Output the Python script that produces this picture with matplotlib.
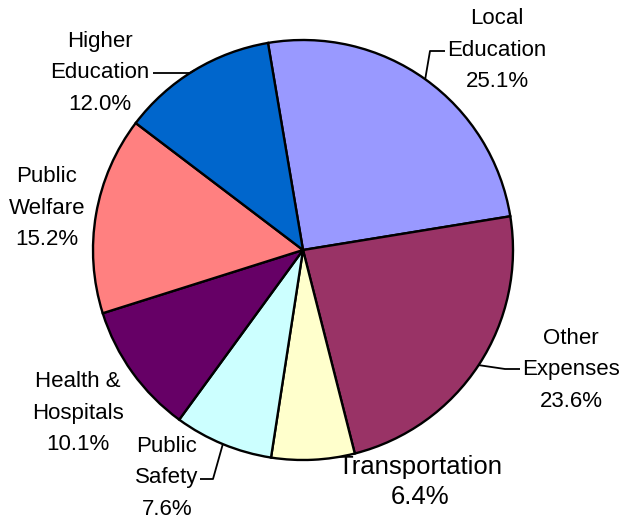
import numpy as np
import matplotlib
matplotlib.use("Agg")
import matplotlib.pyplot as plt

plt.rcParams['font.family'] = ['Liberation Sans', 'DejaVu Sans']

# slice data, clockwise from the top
categories = ["Local\nEducation", "Other\nExpenses", "Transportation", "Public\nSafety",
              "Health &\nHospitals", "Public\nWelfare", "Higher\nEducation"]
shares = [25.1, 23.6, 6.4, 7.6, 10.1, 15.2, 12.0]
colors = ["#9999FF", "#993366", "#FFFFCC", "#CCFFFF", "#660066", "#FF8080", "#0066CC"]

W, H = 625, 521
cx, cy, r = 303, H - 250, 210
start = 99.6

# label placement in pixel coords (x, y from top), and leader points
label_pos = [(497, 50), (571, 370), (420, 482), (167, 478), (78, 413), (47, 208), (100, 73)]
label_size = [16, 16, 18.5, 16, 16, 16, 16]
leaders = {
    0: [(445, 51), (430, 51)],
    1: [(520, 369), (505, 369)],
    3: [(200, 479), (213, 479)],
    6: [(153, 73), (190, 73)],
}

fig = plt.figure(figsize=(W / 100, H / 100), dpi=100)
ax = fig.add_axes([0, 0, 1, 1])
ax.set_xlim(0, W)
ax.set_ylim(0, H)
ax.set_aspect('equal')
ax.axis('off')

ax.pie(shares, colors=colors, startangle=start, counterclock=False,
       center=(cx, cy), radius=r,
       wedgeprops=dict(edgecolor='black', linewidth=1.7))
ax.set_xlim(0, W)
ax.set_ylim(0, H)

total = sum(shares)
cum = np.cumsum(shares)
for i, (name, v) in enumerate(zip(categories, shares)):
    tx, ty = label_pos[i]
    txt = f"{name}\n{v:.1f}%"
    ls = 1.35 if label_size[i] > 17 else 1.65
    ax.text(tx, H - ty, txt, ha='center', va='center', multialignment='center',
            fontsize=label_size[i], linespacing=ls, color='black')
    if i in leaders:
        mid = np.deg2rad(start - 360 * (cum[i] - v / 2) / total)
        px, py = cx + r * np.cos(mid), cy + r * np.sin(mid)
        pts = leaders[i]
        xs = [p[0] for p in pts] + [px]
        ys = [H - p[1] for p in pts] + [py]
        ax.plot(xs, ys, color='black', linewidth=1.3, solid_capstyle='butt')

fig.savefig("out.png", dpi=100)
